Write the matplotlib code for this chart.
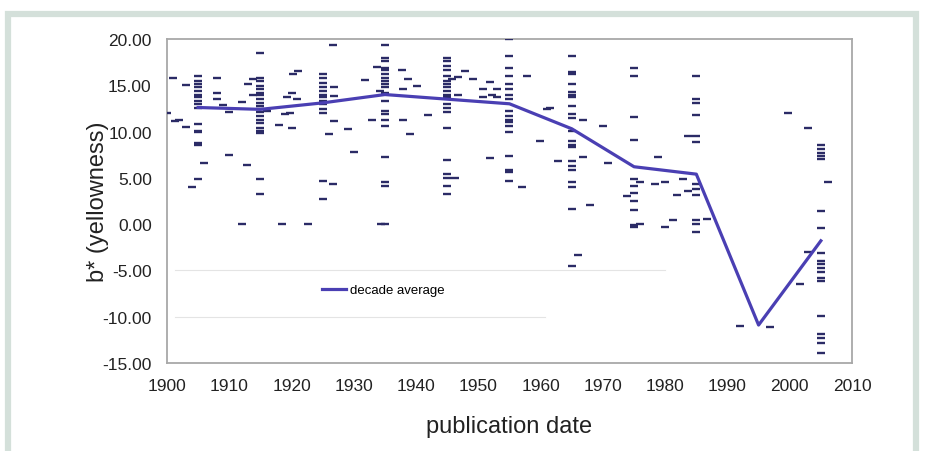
import matplotlib
matplotlib.use("Agg")
import matplotlib.pyplot as plt
from matplotlib.patches import Rectangle
from matplotlib.ticker import FormatStrFormatter

plt.rcParams['font.family'] = ['Liberation Sans Narrow', 'Liberation Sans', 'DejaVu Sans']
plt.rcParams['axes.unicode_minus'] = False

# stacked samples at each decade midpoint
col_years = [1905, 1915, 1925, 1935, 1945, 1955, 1965, 1975, 1985, 2005]
col_1905 = [16.0, 15.5, 15.1, 14.8, 14.4, 14.0, 13.7, 13.3, 13.0, 12.6, 10.8, 10.1, 9.9, 8.8, 8.5, 4.9]
col_1915 = [18.5, 15.8, 15.5, 14.9, 14.6, 14.2, 13.9, 13.5, 13.1, 12.8, 12.4, 12.1, 11.7, 11.3,
            10.9, 10.4, 10.1, 9.8, 4.9, 3.3]
col_1925 = [16.2, 15.8, 15.3, 14.8, 14.4, 14.0, 13.7, 13.3, 13.0, 12.4, 12.0, 4.7, 2.7]
col_1935 = [19.4, 18.0, 17.6, 16.9, 16.6, 16.2, 15.8, 15.5, 15.1, 14.8, 14.2, 13.3, 12.2, 11.9,
            11.3, 10.6, 7.2, 4.5, 4.1, 0.0]
col_1945 = [18.0, 17.6, 17.1, 16.6, 16.0, 15.5, 15.1, 14.8, 14.4, 14.0, 13.7, 13.0, 12.6, 12.1,
            10.4, 6.9, 5.4, 5.0, 4.1, 3.3]
col_1955 = [20.0, 18.2, 16.9, 16.0, 15.1, 14.6, 13.9, 13.5, 12.2, 11.7, 11.3, 11.0, 10.6, 9.9,
            7.4, 5.9, 5.6, 4.7]
col_1965 = [18.2, 16.4, 16.2, 15.1, 14.3, 14.0, 13.7, 12.8, 11.9, 11.5, 10.1, 9.0, 8.6, 8.3,
            6.8, 6.3, 5.9, 4.5, 4.0, 1.6, -4.5]
col_1975 = [16.9, 16.0, 11.6, 9.1, 4.9, 4.1, 3.4, 2.5, 1.5, -0.1, -0.3]
col_1985 = [16.0, 13.5, 13.1, 11.8, 9.5, 8.9, 4.3, 3.8, 3.1, 0.4, 0.0, -0.9]
col_2005 = [8.6, 8.1, 7.7, 7.4, 7.0, 1.4, -0.4, -3.1, -4.0, -4.3, -4.7, -5.2, -5.8, -6.1,
            -9.9, -11.9, -12.3, -12.8, -13.9]
col_values = [col_1905, col_1915, col_1925, col_1935, col_1945,
              col_1955, col_1965, col_1975, col_1985, col_2005]

# individual samples between the decade midpoints
other_years = [1900, 1901, 1901.3, 1902, 1903, 1903, 1904, 1906, 1908, 1908, 1908, 1909, 1910,
               1910, 1912, 1912, 1912.8, 1913, 1913.8, 1913.8, 1916, 1918, 1918.5, 1919, 1919.8,
               1919.3, 1920, 1920.9, 1920, 1920.3, 1921, 1922.7, 1926.7, 1926.7, 1926, 1926.8,
               1926.8, 1926.8, 1929, 1930, 1931.8, 1933, 1933.7, 1934.2, 1934.4, 1937.7, 1938.7,
               1940.1, 1937.9, 1937.9, 1939, 1941.9, 1945.8, 1946.8, 1946.8, 1946.3, 1947.9,
               1949.2, 1950.8, 1950.8, 1951.9, 1951.9, 1952.2, 1953, 1953, 1957, 1957.8, 1959.9,
               1961, 1961.5, 1962.8, 1966, 1966.8, 1966.8, 1967.9, 1970, 1970.8, 1973.9, 1976,
               1976, 1978.4, 1978.9, 1980, 1980, 1981.3, 1981.9, 1982.9, 1983.7, 1983.7, 1986.7,
               1992, 1996.8, 1999.7, 2001.6, 2002.9, 2002.9, 2006.1]
other_values = [12.0, 15.8, 11.1, 11.3, 15.0, 10.5, 4.0, 6.6, 15.8, 14.2, 13.5, 12.9, 12.1,
                7.5, 13.2, 0.0, 6.4, 15.1, 15.7, 14.0, 12.2, 10.7, 0.0, 11.9, 12.0,
                13.7, 14.2, 13.5, 10.4, 16.2, 16.5, 0.0, 19.4, 4.3, 9.7, 14.8,
                13.8, 11.1, 10.3, 7.8, 15.6, 11.2, 17.0, 14.4, 0.0, 16.7, 15.7,
                14.9, 14.6, 11.3, 9.7, 11.8, 15.7, 15.9, 14.0, 5.0, 16.5,
                15.7, 14.6, 13.7, 15.4, 7.1, 14.0, 14.6, 13.7, 4.0, 16.0, 9.0,
                12.4, 12.6, 6.8, -3.3, 11.3, 7.2, 2.1, 10.6, 6.6, 3.0, 4.5,
                0.0, 4.3, 7.3, 4.6, -0.3, 0.5, 3.2, 4.9, 3.6, 9.5, 0.6,
                -11.0, -11.1, 12.0, -6.5, 10.4, -3.0, 4.6]

decades = [1905, 1915, 1925, 1935, 1945, 1955, 1965, 1975, 1985, 1995, 2005]
decade_avg = [12.6, 12.4, 13.1, 14.0, 13.5, 13.0, 10.3, 6.2, 5.4, -10.9, -1.8]

fig = plt.figure(figsize=(9.27, 4.52), dpi=100)
fig.patches.append(Rectangle((8 / 927, -0.1), 908 / 927, 1.0 - 15 / 452 + 0.1,
                             transform=fig.transFigure, fill=False,
                             edgecolor='#d4e0da', linewidth=4.5))

ax = fig.add_axes([167 / 927, 1 - 364 / 452, 685 / 927, 324 / 452])

dash_color = '#2b2b66'
for yr, vals in zip(col_years, col_values):
    ax.plot([yr] * len(vals), vals, ls='none', marker='_', ms=5.5, mew=1.7,
            color=dash_color, zorder=3)
ax.plot(other_years, other_values, ls='none', marker='_', ms=5.5, mew=1.7,
        color=dash_color, zorder=3)

# faint remains of the gridlines behind the legend
ax.plot([1901.3, 1980], [-5, -5], color='#e4e4e4', lw=0.8, zorder=1)
ax.plot([1901.3, 1960.7], [-10, -10], color='#e4e4e4', lw=0.8, zorder=1)

ax.plot(decades, decade_avg, color='#4a3fb3', lw=2.3, label='decade average', zorder=4)

ax.set_xlim(1900, 2010)
ax.set_ylim(-15, 20)
ax.set_xticks(range(1900, 2011, 10))
ax.set_yticks(range(-15, 21, 5))
ax.yaxis.set_major_formatter(FormatStrFormatter('%.2f'))
ax.tick_params(length=0, labelsize=12.5, colors='#222222')
ax.tick_params(axis='x', pad=11)
ax.tick_params(axis='y', pad=11)

for side in ['left', 'bottom', 'right', 'top']:
    ax.spines[side].set_color('#a8a8a8')
    ax.spines[side].set_linewidth(1.3)

ax.set_xlabel('publication date', fontsize=17, color='#222222')
ax.set_ylabel('b* (yellowness)', fontsize=17, color='#222222')
ax.xaxis.set_label_coords(0.5, -0.16)
ax.yaxis.set_label_coords(-0.085, 0.5)

ax.legend(loc='center left', bbox_to_anchor=(0.226, 0.225), frameon=False,
          fontsize=9.5, handlelength=1.8, handletextpad=0.3, borderpad=0,
          borderaxespad=0)

fig.savefig('out.png', dpi=100)
